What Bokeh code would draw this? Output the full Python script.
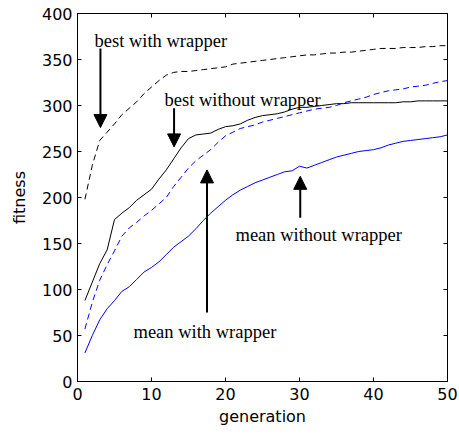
from bokeh.plotting import figure
from bokeh.models import Range1d, LinearAxis, Arrow, NormalHead, Label, ColumnDataSource, FixedTicker
from bokeh.embed import file_html
from bokeh.resources import INLINE

# ---- data ----
generation = list(range(1, 51))

best_with_wrapper = [198, 235, 262, 271, 280, 290, 297, 304, 313, 320,
                     327, 333, 336, 337, 337, 338, 339, 340, 341, 342,
                     345, 346, 347, 348, 349, 350, 351, 352, 353, 354,
                     355, 355, 356, 357, 357, 358, 358, 359, 360, 361,
                     362, 362, 362, 363, 363, 363, 364, 364, 365, 365]

best_without_wrapper = [88, 108, 128, 143, 176, 183, 189, 197, 203, 209,
                        220, 230, 242, 254, 264, 268, 269, 270, 274, 277,
                        278, 280, 284, 287, 289, 290, 291, 293, 296, 298,
                        298, 299, 300, 301, 302, 302, 303, 303, 303, 303,
                        303, 303, 303, 304, 304, 305, 305, 305, 305, 305]

mean_with_wrapper = [57, 86, 110, 127, 142, 158, 167, 173, 180, 186,
                     193, 200, 212, 222, 232, 240, 246, 252, 260, 267,
                     271, 275, 277, 279, 282, 284, 286, 288, 290, 292,
                     294, 296, 297, 298, 300, 303, 305, 307, 309, 312,
                     314, 316, 317, 318, 320, 321, 322, 324, 326, 327]

mean_without_wrapper = [31, 50, 67, 79, 88, 98, 103, 111, 119, 124,
                        130, 138, 146, 152, 158, 166, 175, 183, 190, 197,
                        203, 208, 212, 216, 219, 222, 225, 228, 229, 234,
                        232, 235, 238, 241, 244, 246, 248, 250, 251, 252,
                        254, 257, 259, 261, 262, 263, 264, 265, 266, 268]

x_ticks = [0, 10, 20, 30, 40, 50]
y_ticks = [0, 50, 100, 150, 200, 250, 300, 350, 400]

annotation_texts = ["best with wrapper", "best without wrapper",
                    "mean with wrapper", "mean without wrapper"]

src = ColumnDataSource(dict(g=generation, bw=best_with_wrapper, bwo=best_without_wrapper,
                            mw=mean_with_wrapper, mwo=mean_without_wrapper))

p = figure(frame_width=370, frame_height=368,
           min_border_left=77, min_border_right=12, min_border_top=13, min_border_bottom=56,
           x_range=Range1d(0, 50), y_range=Range1d(0, 400),
           output_backend="svg", toolbar_location=None,
           background_fill_color="white", border_fill_color="white")

p.grid.visible = False
p.outline_line_color = "black"
p.outline_line_width = 1

tick_font = "DejaVu Sans"
for ax in p.xaxis + p.yaxis:
    ax.major_tick_in = 4
    ax.major_tick_out = 0
    ax.minor_tick_line_color = None
    ax.axis_line_color = "black"
    ax.major_tick_line_color = "black"
    ax.major_label_text_font = tick_font
    ax.major_label_text_font_size = "16px"
    ax.major_label_text_color = "black"
    ax.axis_label_text_font = tick_font
    ax.axis_label_text_font_size = "16px"
    ax.axis_label_text_font_style = "normal"
    ax.axis_label_text_color = "black"

p.xaxis.ticker = FixedTicker(ticks=x_ticks)
p.yaxis.ticker = FixedTicker(ticks=y_ticks)
p.xaxis.axis_label = "generation"
p.yaxis.axis_label = "fitness"
p.xaxis.major_label_standoff = 6
p.yaxis.major_label_standoff = 5
p.xaxis.axis_label_standoff = 4
p.yaxis.axis_label_standoff = 10

# mirrored top/right axes (ticks only)
top = LinearAxis(ticker=FixedTicker(ticks=x_ticks))
right = LinearAxis(ticker=FixedTicker(ticks=y_ticks))
for ax in (top, right):
    ax.major_tick_in = 4
    ax.major_tick_out = 0
    ax.minor_tick_line_color = None
    ax.major_label_text_font_size = "0px"
    ax.major_label_text_alpha = 0
    ax.major_label_standoff = 0
    ax.axis_line_color = "black"
p.add_layout(top, "above")
p.add_layout(right, "right")

# lines
p.line("g", "bw", source=src, line_color="black", line_width=1, line_dash="6 4")
p.line("g", "bwo", source=src, line_color="black", line_width=1)
p.line("g", "mw", source=src, line_color="#0000ff", line_width=1, line_dash="6 4")
p.line("g", "mwo", source=src, line_color="#0000ff", line_width=1)

# annotations
serif = "Liberation Serif"
label_pos = [(2.3, 370.5), (11.76, 306), (7.57, 53.3), (21.35, 158.7)]
for t, (lx, ly) in zip(annotation_texts, label_pos):
    p.add_layout(Label(x=lx, y=ly, text=t, text_font=serif, text_font_size="18.5px",
                       text_color="black", text_baseline="alphabetic", text_align="left"))

arrows = [(3.1, 362, 3.1, 276), (13.05, 297, 13.05, 255),
          (17.5, 75, 17.5, 230), (30.1, 178, 30.1, 223)]
for xs, ys, xe, ye in arrows:
    p.add_layout(Arrow(end=NormalHead(size=13, fill_color="black", line_color="black", line_width=1),
                       x_start=xs, y_start=ys, x_end=xe, y_end=ye,
                       line_color="black", line_width=2))

open("out.html", "w").write(file_html(p, INLINE))
